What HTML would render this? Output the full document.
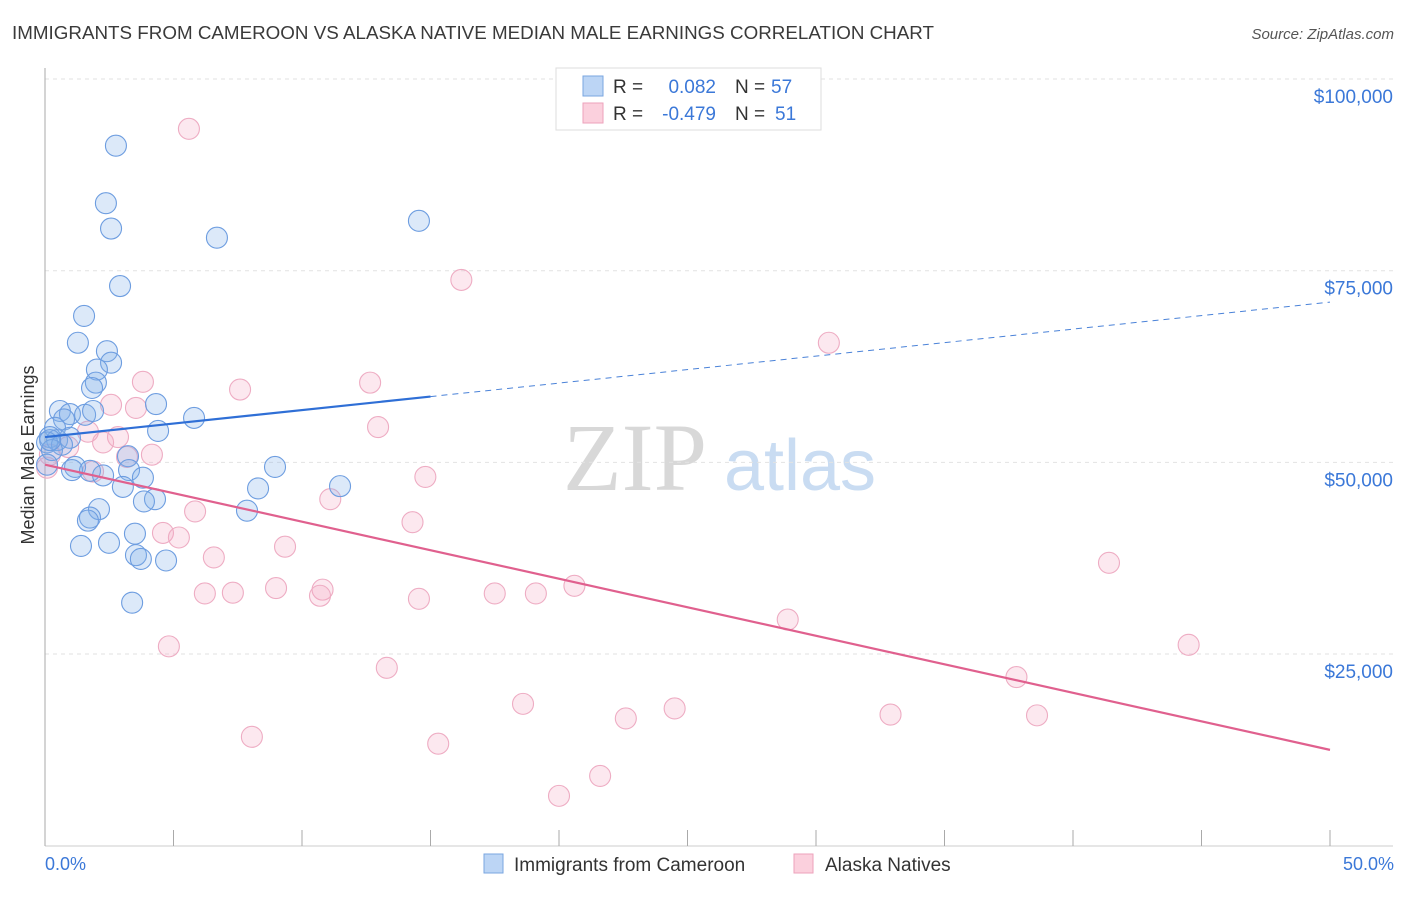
<!DOCTYPE html>
<html><head><meta charset="utf-8"><style>
body{margin:0;background:#fff;font-family:"Liberation Sans",sans-serif}
</style></head><body>
<svg id="chart" width="1406" height="892" xmlns="http://www.w3.org/2000/svg" font-family="Liberation Sans, sans-serif">
<text x="12" y="39" font-size="18" fill="#3a3a3a" textLength="922" lengthAdjust="spacingAndGlyphs">IMMIGRANTS FROM CAMEROON VS ALASKA NATIVE MEDIAN MALE EARNINGS CORRELATION CHART</text>
<text x="1394" y="39" font-size="15" fill="#555" text-anchor="end" font-style="italic">Source: ZipAtlas.com</text>
<g>
<text x="635" y="490" font-size="96" fill="#d8d8d8" text-anchor="middle" font-family="Liberation Serif, serif">ZIP</text>
<text x="800" y="490" font-size="72" fill="#c9dcf2" text-anchor="middle">atlas</text>
</g>
<g id="grid"></g><g id="axes"></g><g id="marks"></g>
<text transform="translate(34,455) rotate(-90)" font-size="18" fill="#333" text-anchor="middle">Median Male Earnings</text>
<text x="45" y="870" font-size="18" fill="#3b78d8">0.0%</text>
<text x="1394" y="870" font-size="18" fill="#3b78d8" text-anchor="end">50.0%</text>
<g font-size="19">
<rect x="556" y="68" width="265" height="62" fill="#fff" stroke="#ddd"/>
<rect x="583" y="76" width="20" height="20" fill="#bcd5f5" stroke="#7aa6e0"/>
<rect x="583" y="103" width="20" height="20" fill="#fbd0dd" stroke="#eca2bb"/>
<text x="613" y="93" fill="#333">R =</text>
<text x="716" y="93" fill="#3b78d8" text-anchor="end">0.082</text>
<text x="735" y="93" fill="#333">N =</text>
<text x="771" y="93" fill="#3b78d8">57</text>
<text x="613" y="120" fill="#333">R =</text>
<text x="716" y="120" fill="#3b78d8" text-anchor="end">-0.479</text>
<text x="735" y="120" fill="#333">N =</text>
<text x="775" y="120" fill="#3b78d8">51</text>
</g>
<g>
<rect x="484" y="854" width="19" height="19" fill="#bcd5f5" stroke="#7aa6e0"/>
<text x="514" y="871" font-size="19" fill="#333">Immigrants from Cameroon</text>
<rect x="794" y="854" width="19" height="19" fill="#fbd0dd" stroke="#eca2bb"/>
<text x="825" y="871" font-size="19" fill="#333">Alaska Natives</text>
</g>
</svg>
<script>
const yTicks=[25000,50000,75000,100000];
const yTickLabels=["$25,000","$50,000","$75,000","$100,000"];
const blueX=[2.76,2.37,2.57,6.69,14.55,2.92,1.52,1.28,2.41,2.57,2.02,1.98,1.83,4.32,0.58,0.97,1.56,1.87,0.74,5.8,4.4,0.39,0.19,0.47,0.97,0.08,0.66,0.27,3.23,1.17,1.05,1.75,2.26,3.27,3.81,8.95,3.03,4.28,3.85,8.29,11.48,2.1,7.86,1.75,1.67,3.5,1.4,2.49,3.54,3.73,4.71,3.39,0.08,0.2];
const blueY=[91.3,83.8,80.5,79.3,81.5,73.0,69.1,65.6,64.5,63.0,62.1,60.4,59.7,57.6,56.7,56.3,56.2,56.7,55.6,55.8,54.1,54.5,53.3,52.9,53.2,52.6,52.3,51.6,50.8,49.4,49.0,48.9,48.3,49.0,48.0,49.4,46.8,45.2,44.9,46.6,46.9,43.9,43.7,42.8,42.4,40.7,39.1,39.5,37.9,37.4,37.2,31.7,49.7,52.9];
const pinkX=[5.6,16.2,30.5,3.81,7.59,12.65,2.57,3.54,12.96,1.67,2.84,2.26,0.9,4.16,3.19,0.19,0.08,1.87,14.8,11.1,5.84,14.3,4.59,5.21,9.34,6.57,41.4,20.6,8.99,10.8,6.22,7.31,10.7,17.5,19.1,14.55,28.9,4.82,44.5,13.3,37.8,18.6,24.5,32.9,38.6,22.6,8.05,15.3,21.6,20.0];
const pinkY=[93.5,73.8,65.6,60.5,59.5,60.4,57.5,57.1,54.6,54.0,53.3,52.6,52.0,51.0,50.7,51.0,49.3,48.8,48.1,45.2,43.6,42.2,40.8,40.2,39.0,37.6,36.9,33.9,33.6,33.4,32.9,33.0,32.6,32.9,32.9,32.2,29.5,26.0,26.2,23.2,22.0,18.5,17.9,17.1,17.0,16.6,14.2,13.3,9.1,6.5];
const blueTrend=[53.3,70.9]; // $k at 0% and 50%
const pinkTrend=[49.7,12.5];
const NS="http://www.w3.org/2000/svg";
const X=p=>45+p/50*1285;
const Y=k=>845.7-k*1000/25000*191.67;
function mk(t,a,parent){const e=document.createElementNS(NS,t);for(const k in a)e.setAttribute(k,a[k]);document.getElementById(parent).appendChild(e);return e;}
yTicks.forEach((v,i)=>{
 const g=mk('line',{x1:45,x2:1393,y1:Y(v/1000),y2:Y(v/1000),stroke:'#e2e2e2','stroke-dasharray':'4,4'},'grid');
 
 
 const t=mk('text',{x:1393,y:Y(v/1000)+24,'font-size':19,fill:'#3b78d8','text-anchor':'end'},'grid');
 t.textContent=yTickLabels[i];
 
 
});
mk('line',{x1:45,x2:45,y1:68,y2:846,stroke:'#aaa'},'axes');
mk('line',{x1:45,x2:1393,y1:846,y2:846,stroke:'#ccc'},'axes');
for(let i=0;i<=10;i++){const l=mk('line',{x1:X(i*5),x2:X(i*5),y1:830,y2:846,stroke:'#aaa'},'axes');
 
 }
function dots(xs,ys,fill,stroke,name){xs.forEach((x,i)=>{const c=mk('circle',{cx:X(x),cy:Y(ys[i]),r:10.5,fill:fill,stroke:stroke,'stroke-width':1.1},'marks');
 
 });}
dots(pinkX,pinkY,'rgba(244,165,192,0.25)','#eeacc3','alaska-native-point');
dots(blueX,blueY,'rgba(130,175,235,0.28)','#6d9de0','cameroon-point');
const bx=15.0,by=blueTrend[0]+(blueTrend[1]-blueTrend[0])*bx/50;
let l=mk('line',{x1:X(0),y1:Y(blueTrend[0]),x2:X(bx),y2:Y(by),stroke:'#2f6fd6','stroke-width':2.2},'marks');


l=mk('line',{x1:X(bx),y1:Y(by),x2:X(50),y2:Y(blueTrend[1]),stroke:'#4a82d8','stroke-width':1,'stroke-dasharray':'6,5'},'marks');


l=mk('line',{x1:X(0),y1:Y(pinkTrend[0]),x2:X(50),y2:Y(pinkTrend[1]),stroke:'#e0608e','stroke-width':2.2},'marks');


</script>
</body></html>
